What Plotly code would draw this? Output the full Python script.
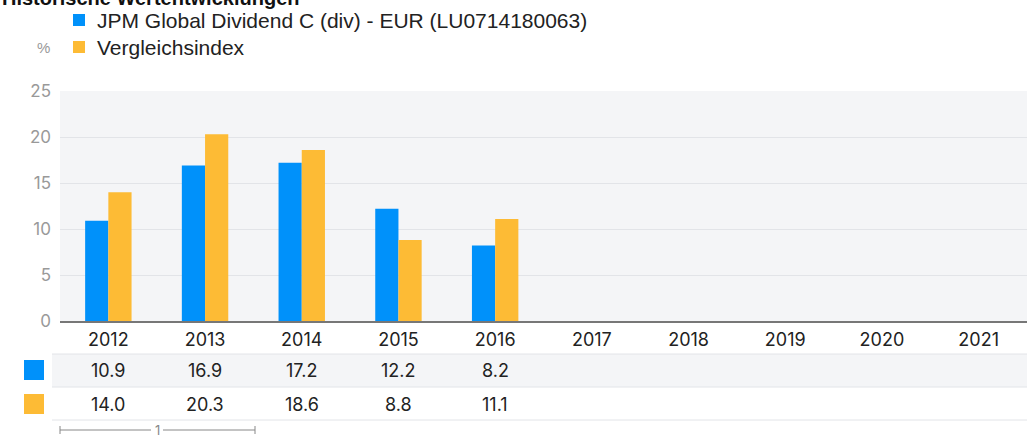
import plotly.graph_objects as go

years = ["2012", "2013", "2014", "2015", "2016", "2017", "2018", "2019", "2020", "2021"]
fund_name = "JPM Global Dividend C (div) - EUR (LU0714180063)"
index_name = "Vergleichsindex"
fund_values = [10.9, 16.9, 17.2, 12.2, 8.2, None, None, None, None, None]
index_values = [14.0, 20.3, 18.6, 8.8, 11.1, None, None, None, None, None]
title_text = "Historische Wertentwicklungen"
y_ticks = [0, 5, 10, 15, 20, 25]

BLUE = "#0091fa"
ORANGE = "#fdbb35"
FONT = "Inter"
LFONT = "Liberation Sans"

W, H = 1027, 435
L, R, T, B = 60, 0, 91, 114
PH = H - T - B
PW = W - L - R

def py(p):
    return (H - B - p) / PH

def px(p):
    return (p - L) / PW

fig = go.Figure()
fig.add_trace(go.Bar(x=years, y=fund_values, name=fund_name, marker_color=BLUE,
                     marker_line_width=0))
fig.add_trace(go.Bar(x=years, y=index_values, name=index_name, marker_color=ORANGE,
                     marker_line_width=0))

shapes = []
annotations = []

# title (cut at top)
annotations.append(dict(text="<b>" + title_text + "</b>", x=px(0), y=py(11), xref="paper", yref="paper",
                        xanchor="left", yanchor="bottom", showarrow=False,
                        font=dict(family=LFONT, size=20, color="#111")))
# legend
for i, (name, col) in enumerate([(fund_name, BLUE), (index_name, ORANGE)]):
    cy = 20 + i * 27
    shapes.append(dict(type="rect", xref="paper", yref="paper", x0=px(73), x1=px(85),
                       y0=py(cy - 6), y1=py(cy + 6), fillcolor=col, line_width=0))
    annotations.append(dict(text=name, x=px(95), y=py(cy), xref="paper", yref="paper",
                            xanchor="left", yanchor="middle", showarrow=False,
                            font=dict(family=LFONT, size=21, color="#222")))
annotations.append(dict(text="%", x=px(52), y=py(47), xref="paper", yref="paper",
                        xanchor="right", yanchor="middle", showarrow=False,
                        font=dict(family=LFONT, size=15, color="#999")))

# table
shapes.append(dict(type="rect", xref="paper", yref="paper", x0=px(52), x1=1,
                   y0=py(387), y1=py(354), fillcolor="#f4f5f7", line_width=0, layer="below"))
for ly in [354, 387, 420]:
    shapes.append(dict(type="line", xref="paper", yref="paper", x0=px(52), x1=1,
                       y0=py(ly), y1=py(ly), line=dict(color="#e2e4e8", width=1)))
for row, (vals, col) in enumerate([(fund_values, BLUE), (index_values, ORANGE)]):
    cy = 370 + row * 34
    shapes.append(dict(type="rect", xref="paper", yref="paper", x0=px(24), x1=px(44),
                       y0=py(cy - 10), y1=py(cy + 10), fillcolor=col, line_width=0))
    for i, v in enumerate(vals):
        if v is None:
            continue
        annotations.append(dict(text=f"{v:.1f}", x=i, y=py(cy), xref="x", yref="paper",
                                xanchor="center", yanchor="middle", showarrow=False,
                                font=dict(family=FONT, size=18, color="#222")))

# scale bar
sb_y = 430
for x0, x1 in [(60, 151), (163, 255)]:
    shapes.append(dict(type="line", xref="paper", yref="paper", x0=px(x0), x1=px(x1),
                       y0=py(sb_y), y1=py(sb_y), line=dict(color="#888", width=1)))
for xx in [60, 255]:
    shapes.append(dict(type="line", xref="paper", yref="paper", x0=px(xx), x1=px(xx),
                       y0=py(sb_y - 4), y1=py(sb_y + 4), line=dict(color="#888", width=1)))
annotations.append(dict(text="1", x=px(157), y=py(sb_y), xref="paper", yref="paper",
                        xanchor="center", yanchor="middle", showarrow=False,
                        font=dict(family=FONT, size=13, color="#888")))

fig.update_layout(
    width=W, height=H,
    margin=dict(l=L, r=R, t=T, b=B),
    paper_bgcolor="white", plot_bgcolor="#f4f5f7",
    barmode="group", bargap=0.52, bargroupgap=0,
    showlegend=False,
    font=dict(family=FONT),
    shapes=shapes, annotations=annotations,
    xaxis=dict(type="category", range=[-0.5, 9.5], showgrid=False, showline=True, linecolor="#777",
               linewidth=1.5, automargin=False,
               tickfont=dict(family=FONT, size=18, color="#222"), ticks="", ticklabelstandoff=2,
               fixedrange=True),
    yaxis=dict(range=[0, 25], tickvals=y_ticks, showgrid=True, gridcolor="#e2e4e8", gridwidth=1,
               zeroline=False, showline=False, automargin=False,
               tickfont=dict(family=FONT, size=17, color="#999"),
               ticks="", ticklabelstandoff=8, fixedrange=True),
)

fig.write_html("out.html", config={"displayModeBar": False},
               post_script="document.body.style.margin='0';document.body.style.overflow='hidden';")
